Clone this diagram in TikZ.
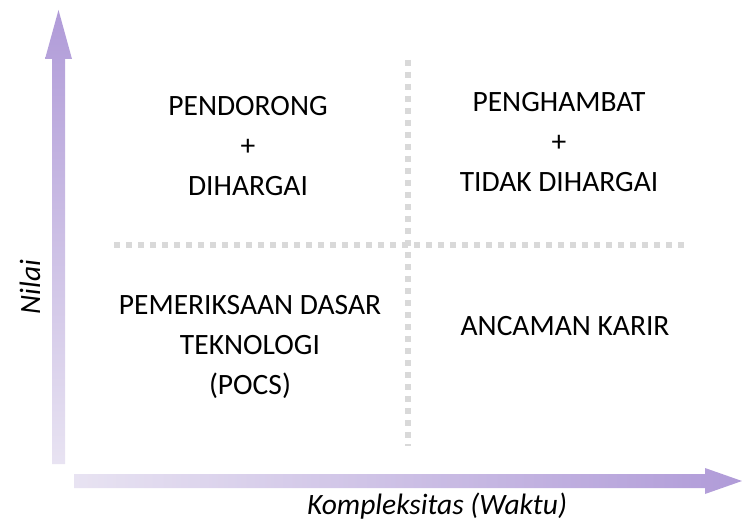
\documentclass[tikz,border=0pt]{standalone}
\usepackage{fontspec}
\setmainfont{Carlito}
\definecolor{axisdark}{HTML}{B09BD8}
\definecolor{axislight}{HTML}{E8E3F2}
\definecolor{gridgray}{HTML}{D9D9D9}
\begin{document}
\begin{tikzpicture}[x=1pt,y=-1pt,
  quadtext/.style={align=center,font=\fontsize{29.5}{40}\selectfont,inner sep=0pt},
  axislabel/.style={font=\fontsize{29.5}{34}\selectfont\itshape,inner sep=0pt},
  gridline/.style={draw=gridgray,line width=6pt,dash pattern=on 6pt off 6pt}]
\useasboundingbox (0,0) rectangle (742,524);

% value axis (vertical arrow, light at the bottom, dark at the tip)
\shade[bottom color=axislight,top color=axisdark]
  (52,464) -- (52,59) -- (45,59) -- (58.5,10) -- (72,59) -- (65,59) -- (65,464) -- cycle;
% complexity axis (horizontal arrow)
\shade[left color=axislight,right color=axisdark]
  (74,474) -- (705,474) -- (705,468) -- (742,481) -- (705,494) -- (705,488) -- (74,488) -- cycle;

% quadrant dividers
\coordinate (vtop) at (407.5,60);
\coordinate (vbot) at (407.5,446);
\coordinate (hleft) at (114,245);
\coordinate (hright) at (686,245);
\draw[gridline] (vtop) -- (vbot);
\draw[gridline] (hleft) -- (hright);

% quadrant labels
\node[quadtext] (q1) at (248,146) {PENDORONG\\+\\DIHARGAI};
\node[quadtext] (q2) at (559,142) {PENGHAMBAT\\+\\TIDAK DIHARGAI};
\node[quadtext] (q3) at (250,347) {PEMERIKSAAN DASAR\\TEKNOLOGI\\(POCS)};
\node[quadtext] (q4) at (565,326) {ANCAMAN KARIR};

% axis labels
\node[axislabel,rotate=90] (ylab) at (30,287) {Nilai};
\node[axislabel] (xlab) at (437,506) {Kompleksitas (Waktu)};
\end{tikzpicture}
\end{document}
